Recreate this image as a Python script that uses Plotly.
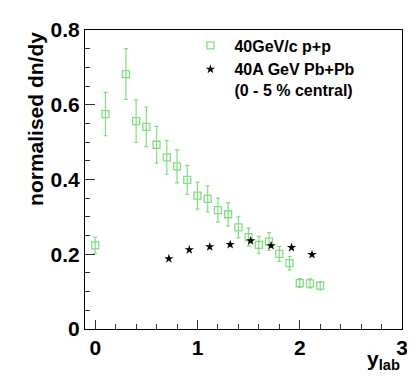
import plotly.graph_objects as go

# 40 GeV/c p+p
pp_y_lab = [0.0, 0.1, 0.3, 0.4, 0.5, 0.6, 0.7, 0.8, 0.9, 1.0, 1.1,
            1.2, 1.3, 1.4, 1.5, 1.6, 1.7, 1.8, 1.9, 2.0, 2.1, 2.2]
pp_dndy = [0.224, 0.575, 0.682, 0.556, 0.541, 0.493, 0.459, 0.435, 0.399, 0.357, 0.348,
           0.318, 0.307, 0.272, 0.246, 0.225, 0.234, 0.201, 0.176, 0.123, 0.122, 0.116]
pp_err = [0.022, 0.058, 0.068, 0.057, 0.053, 0.049, 0.045, 0.044, 0.039, 0.036, 0.035,
          0.032, 0.031, 0.028, 0.024, 0.023, 0.024, 0.020, 0.018, 0.012, 0.012, 0.011]

# 40A GeV Pb+Pb (0-5% central)
pbpb_y_lab = [0.72, 0.92, 1.12, 1.32, 1.52, 1.72, 1.92, 2.12]
pbpb_dndy = [0.188, 0.212, 0.220, 0.226, 0.236, 0.223, 0.218, 0.199]

green = "#80e080"
font = "Liberation Sans, Arial, sans-serif"

fig = go.Figure()
fig.add_trace(go.Scatter(
    x=pp_y_lab, y=pp_dndy, mode="markers", name="<b>40GeV/c p+p</b>",
    marker=dict(symbol="square-open", size=7, color=green, line=dict(width=1.3, color=green)),
    error_y=dict(type="data", array=pp_err, color=green, thickness=1.2, width=2),
))
fig.add_trace(go.Scatter(
    x=pbpb_y_lab, y=pbpb_dndy, mode="markers",
    name="<b>40A GeV Pb+Pb</b><br><b>(0 - 5 % central)</b>",
    marker=dict(symbol="star", size=7, color="black"),
))

# the page body has an 8px margin, so the figure margins are trimmed by 8px
fig.update_layout(
    width=415, height=391,
    margin=dict(l=77, r=21, t=22, b=70),
    paper_bgcolor="white", plot_bgcolor="white",
    font=dict(family=font, color="black"),
    legend=dict(
        x=0.32, y=1.005, xanchor="left", yanchor="top",
        font=dict(size=16, family=font, color="black"),
        bgcolor="rgba(0,0,0,0)", tracegroupgap=0, valign="top",
        itemwidth=38,
    ),
    xaxis=dict(
        range=[-0.1, 3.0], showgrid=False, zeroline=False, automargin=False,
        showline=True, linecolor="black", linewidth=1, mirror=True,
        ticks="inside", ticklen=9, tickcolor="#333",
        tickvals=[0, 1, 2, 3], ticktext=["<b>0</b>", "<b>1</b>", "<b>2</b>", "<b>3</b>"],
        tickfont=dict(size=21, family=font),
        minor=dict(ticks="inside", ticklen=5, dtick=0.2, tick0=0, tickcolor="#333"),
    ),
    yaxis=dict(
        range=[0, 0.8], showgrid=False, zeroline=False, automargin=False,
        showline=True, linecolor="black", linewidth=1, mirror=True,
        ticks="inside", ticklen=10, tickcolor="#333",
        tickvals=[0, 0.2, 0.4, 0.6, 0.8],
        ticktext=["<b>0</b>", "<b>0.2</b>", "<b>0.4</b>", "<b>0.6</b>", "<b>0.8</b>"],
        tickfont=dict(size=21, family=font),
        minor=dict(ticks="inside", ticklen=5, dtick=0.05, tick0=0, tickcolor="#333"),
    ),
)

fig.add_annotation(
    text="<b>normalised dn/dy</b>", textangle=-90,
    xref="paper", yref="paper", x=-0.158, y=1.0,
    xanchor="center", yanchor="top", showarrow=False,
    font=dict(size=21, family=font, color="black"),
)
fig.add_annotation(
    text="<b>y<sub>lab</sub></b>",
    xref="paper", yref="paper", x=1.0, y=-0.055,
    xanchor="right", yanchor="top", showarrow=False,
    font=dict(size=21, family=font, color="black"),
)

fig.write_html("out.html")
